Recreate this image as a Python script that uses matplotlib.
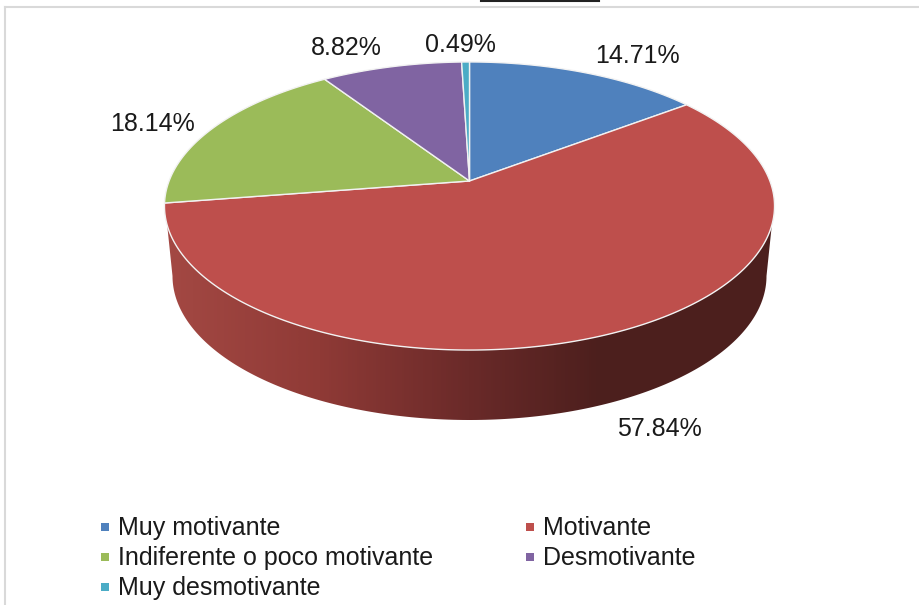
import numpy as np
import matplotlib
matplotlib.use('Agg')
import matplotlib.pyplot as plt
from matplotlib.colors import LinearSegmentedColormap
from matplotlib.patches import Polygon, Rectangle

plt.rcParams['font.family'] = ['Liberation Sans', 'DejaVu Sans']

labels = ['Muy motivante', 'Motivante', 'Indiferente o poco motivante',
          'Desmotivante', 'Muy desmotivante']
values = [14.71, 57.84, 18.14, 8.82, 0.49]
colors = ['#4F81BD', '#BE4F4C', '#9BBB59', '#8064A2', '#4BACC6']

# label text positions, pixels
label_pos = [(637, 56), (659, 429), (153, 124), (346, 48), (460, 45)]
legend_pos = [(105, 527), (530, 527), (105, 557), (530, 557), (105, 587)]

# pie is tilted, so apex is not the middle of the ellipse
cx, cy = 469.5, 181.0
k = 0.1736
c = 139.7
d = 300.4


def rim(theta):
    # theta clockwise from the top, radians
    u, v = np.sin(theta), np.cos(theta)
    den = 1 + k*v
    return cx + d*u/den, cy - c*v/den


fig = plt.figure(figsize=(9.19, 6.05), dpi=100)
ax = fig.add_axes([0, 0, 1, 1])
ax.set_xlim(0, 919)
ax.set_ylim(605, 0)
ax.axis('off')

# frame + clipped title underline
ax.plot([5, 5], [7, 605], color='#D9D9D9', lw=1.5)
ax.plot([5, 919], [7, 7], color='#D9D9D9', lw=1.5)
ax.plot([481, 599], [1, 1], color='#222222', lw=1.5)

# side wall, shaded left to right
ell_x, ell_y = 469.5, 206.0
a_top, b_top = 305.0, 144.0
a_low, b_low = 297.0, 144.0
low_cy = 276.0
t2 = np.linspace(0, np.pi, 200)
wall = []
# upper edge of wall follows top ellipse, y >= 225
s = np.arcsin((225 - ell_y)/b_top)
t_top = np.linspace(np.pi - s, s, 200)
wall += list(zip(ell_x + a_top*np.cos(t_top), ell_y + b_top*np.sin(t_top)))
wall += list(zip(ell_x + a_low*np.cos(t2), low_cy + b_low*np.sin(t2)))
wall_patch = Polygon(wall, closed=True, fc='none', ec='none')
ax.add_patch(wall_patch)
cmap = LinearSegmentedColormap.from_list('wall', [
    (0.0, '#A34843'), (0.25, '#8F3A36'), (0.5, '#6A2A29'),
    (0.72, '#4C1F1D'), (1.0, '#4C1F1D')])
grad = np.linspace(0, 1, 64).reshape(1, -1)
im = ax.imshow(grad, cmap=cmap, extent=[165, 774, 420, 220], aspect='auto',
               interpolation='bilinear', zorder=1)
im.set_clip_path(wall_patch)
ax.set_xlim(0, 919)
ax.set_ylim(605, 0)

# top face
start = 0.0
for val, col in zip(values, colors):
    end = start + val/sum(values)*2*np.pi
    th = np.linspace(start, end, max(int(val*6), 8))
    x, y = rim(th)
    pts = [(cx, cy)] + list(zip(x, y))
    ax.add_patch(Polygon(pts, closed=True, fc=col, ec='#F2F2F2', lw=1.0,
                         joinstyle='round', zorder=2))
    start = end

for val, (x, y) in zip(values, label_pos):
    ax.text(x, y, '%.2f%%' % val, fontsize=18.0, color='#1A1A1A',
            ha='center', va='center', zorder=3)

for name, col, (x, y) in zip(labels, colors, legend_pos):
    ax.add_patch(Rectangle((x - 4, y - 4), 8, 8, fc=col, ec='none', zorder=3))
    ax.text(x + 13, y + 1, name, fontsize=18.0, color='#1A1A1A', ha='left',
            va='center', zorder=3)

fig.savefig('out.png', dpi=100)
